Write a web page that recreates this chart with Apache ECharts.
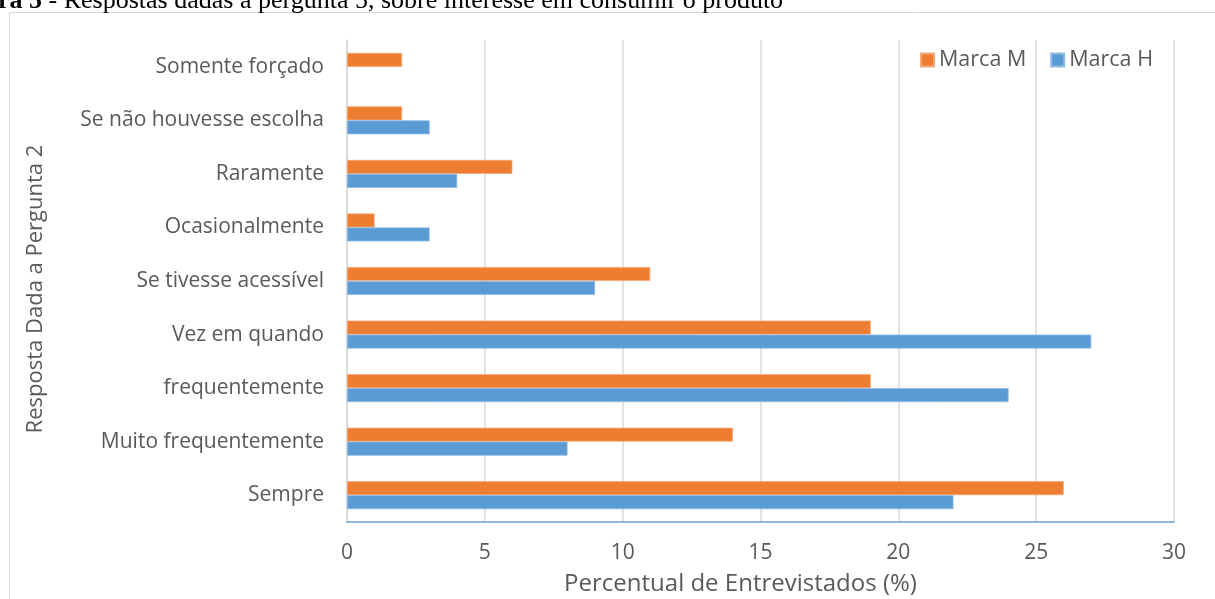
<!DOCTYPE html>
<html>
<head>
<meta charset="utf-8">
<script src="https://cdn.jsdelivr.net/npm/echarts@6/dist/echarts.min.js"></script>
<style>
  html, body { margin: 0; padding: 0; background: #fff; }
  #chart { width: 1215px; height: 599px; }
</style>
</head>
<body>
<div id="chart"></div>
<script>
// Answers to question 2 (bottom to top on the axis)
const categories = [
  'Sempre',
  'Muito frequentemente',
  'frequentemente',
  'Vez em quando',
  'Se tivesse acessível',
  'Ocasionalmente',
  'Raramente',
  'Se não houvesse escolha',
  'Somente forçado'
];
// Percentage of respondents per brand
const marcaM = [26, 14, 19, 19, 11, 1, 6, 2, 2];
const marcaH = [22, 8, 24, 27, 9, 3, 4, 3, null];
const xTicks = [0, 5, 10, 15, 20, 25, 30];

const textColor = '#595959';
const font = 'Open Sans';

const chart = echarts.init(document.getElementById('chart'));
chart.setOption({
  animation: false,
  textStyle: { fontFamily: font },
  graphic: [
    {
      type: 'rect',
      shape: { x: 9.5, y: 12.5, width: 1400, height: 800 },
      style: { fill: 'none', stroke: '#d9d9d9', lineWidth: 1 },
      silent: true
    },
    {
      type: 'text',
      x: -2,
      y: 14,
      style: {
        text: '{b|ra 5} - Respostas dadas a pergunta 5, sobre interesse em consumir o produto',
        fontFamily: 'Liberation Serif',
        fontSize: 26,
        fill: '#000',
        verticalAlign: 'bottom',
        rich: { b: { fontWeight: 'bold', fontFamily: 'Liberation Serif', fontSize: 26 } }
      }
    }
  ],
  legend: {
    data: ['Marca M', 'Marca H'],
    top: 44,
    right: 57,
    itemWidth: 13,
    itemHeight: 13,
    itemGap: 24,
    icon: 'rect',
    textStyle: { color: textColor, fontSize: 21.5, fontFamily: font }
  },
  grid: {
    left: 347, right: 41, top: 40, bottom: 77,
    containLabel: false,
    outerBoundsMode: 'none'
  },
  xAxis: {
    type: 'value',
    min: xTicks[0],
    max: xTicks[xTicks.length - 1],
    interval: 5,
    name: 'Percentual de Entrevistados (%)',
    nameLocation: 'middle',
    nameGap: 50,
    nameTextStyle: { color: textColor, fontSize: 24, padding: [0, 40, 0, 0] },
    axisLine: { show: true, lineStyle: { color: '#8fb9e2', width: 2 } },
    axisTick: { show: false },
    axisLabel: { color: textColor, fontSize: 21, margin: 21 },
    splitLine: { show: true, lineStyle: { color: '#d9d9d9', width: 1.5 } }
  },
  yAxis: {
    type: 'category',
    data: categories,
    name: 'Resposta Dada a Pergunta 2',
    nameLocation: 'middle',
    nameGap: 300,
    nameTextStyle: { color: textColor, fontSize: 22, padding: [0, 16, 0, 0] },
    axisLine: { show: true, lineStyle: { color: '#d9d9d9', width: 1.5 } },
    axisTick: { show: false },
    axisLabel: { color: textColor, fontSize: 21, margin: 23 }
  },
  series: [
    {
      name: 'Marca M',
      type: 'bar',
      data: marcaM,
      barWidth: 14,
      barGap: '0%',
      itemStyle: { color: '#ED7D31', borderColor: '#f4a878', borderWidth: 0.8 }
    },
    {
      name: 'Marca H',
      type: 'bar',
      data: marcaH,
      barWidth: 14,
      barGap: '0%',
      itemStyle: { color: '#5B9BD5', borderColor: '#8fbbe5', borderWidth: 0.8 }
    }
  ]
});
</script>
</body>
</html>
